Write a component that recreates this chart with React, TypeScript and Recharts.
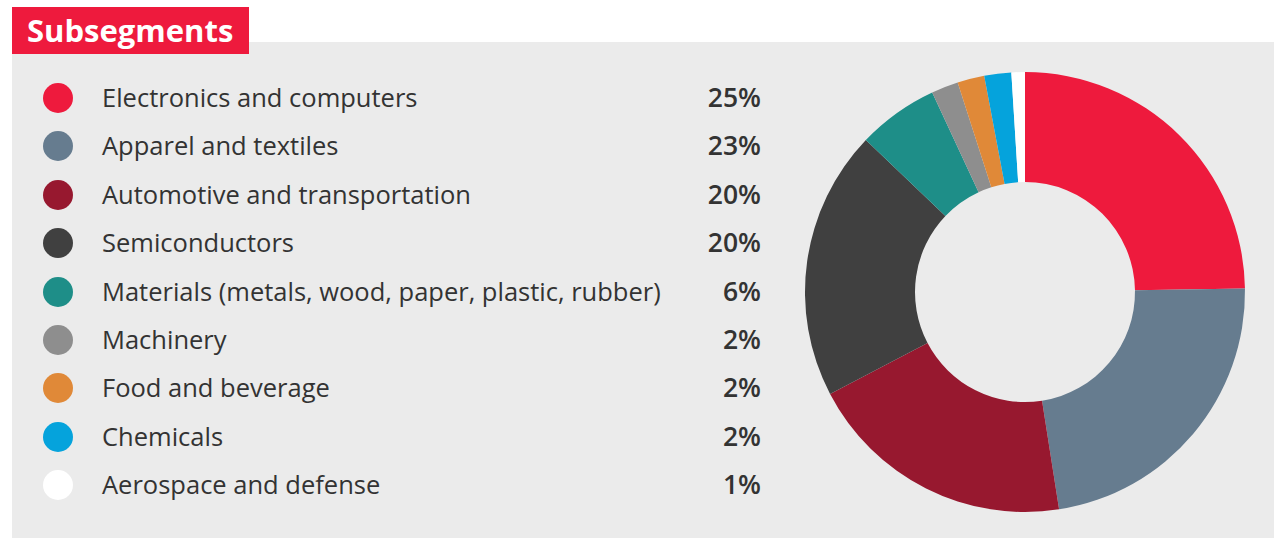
import { PieChart, Pie, Cell } from "recharts";

const categories = [
  "Electronics and computers",
  "Apparel and textiles",
  "Automotive and transportation",
  "Semiconductors",
  "Materials (metals, wood, paper, plastic, rubber)",
  "Machinery",
  "Food and beverage",
  "Chemicals",
  "Aerospace and defense",
];
const shares = [25, 23, 20, 20, 6, 2, 2, 2, 1];
const colors = [
  "#ee1a3d",
  "#667c8f",
  "#97182f",
  "#404040",
  "#1e8e88",
  "#8e8e8e",
  "#e08938",
  "#05a3dc",
  "#ffffff",
];

const data = categories.map((name, i) => ({ name, value: shares[i] }));

const FONT = "'Open Sans', 'Noto Sans', sans-serif";

export default function App() {
  return (
    <div
      style={{
        position: "absolute",
        left: 0,
        top: 0,
        width: 1278,
        height: 538,
        background: "#fff",
        fontFamily: FONT,
        overflow: "hidden",
      }}
    >
      <div
        style={{
          position: "absolute",
          left: 12,
          top: 42,
          width: 1262,
          height: 496,
          background: "#ebebeb",
        }}
      />
      <div
        style={{
          position: "absolute",
          left: 12,
          top: 7,
          width: 237,
          height: 47,
          background: "#ee1a3d",
          color: "#fff",
          fontWeight: 700,
          fontSize: 31,
          lineHeight: "46px",
          paddingLeft: 15,
          boxSizing: "border-box",
        }}
      >
        Subsegments
      </div>
      {categories.map((c, i) => {
        const y = 98 + i * 48.4;
        return (
          <div key={c}>
            <div
              style={{
                position: "absolute",
                left: 43,
                top: y - 15,
                width: 30,
                height: 30,
                borderRadius: "50%",
                background: colors[i],
              }}
            />
            <div
              style={{
                position: "absolute",
                left: 102,
                top: y - 19,
                height: 36,
                lineHeight: "36px",
                fontSize: 25.5,
                color: "#333",
                whiteSpace: "nowrap",
              }}
            >
              {c}
            </div>
            <div
              style={{
                position: "absolute",
                right: 1278 - 761,
                top: y - 19,
                height: 36,
                lineHeight: "36px",
                fontSize: 26.5,
                fontWeight: 600,
                color: "#333",
              }}
            >
              {shares[i]}%
            </div>
          </div>
        );
      })}
      <div style={{ position: "absolute", left: 0, top: 0 }}>
        <PieChart width={1278} height={538} margin={{ top: 0, right: 0, bottom: 0, left: 0 }}>
          <Pie
            data={data}
            dataKey="value"
            cx={1025}
            cy={292}
            innerRadius={110}
            outerRadius={220}
            startAngle={90}
            endAngle={-270}
            stroke="none"
            isAnimationActive={false}
          >
            {data.map((d, i) => (
              <Cell key={d.name} fill={colors[i]} />
            ))}
          </Pie>
        </PieChart>
      </div>
    </div>
  );
}
